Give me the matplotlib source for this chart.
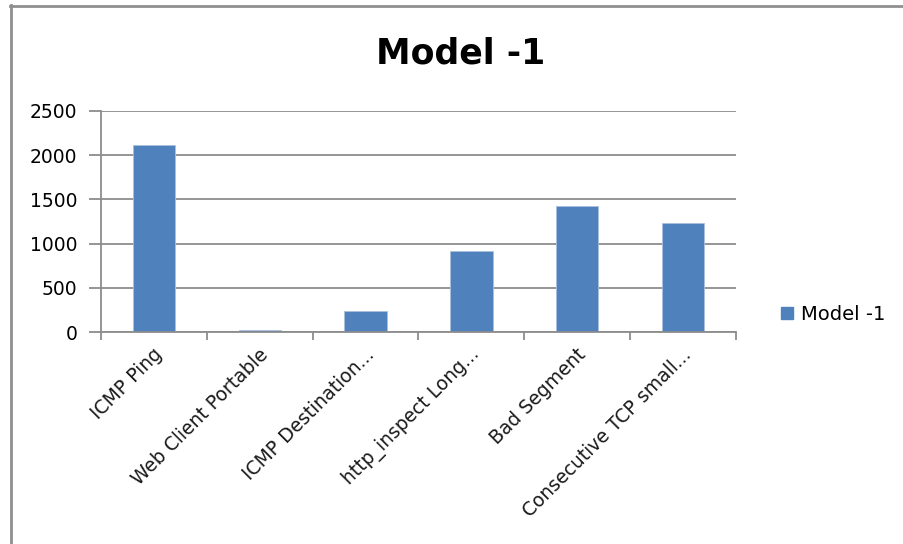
import matplotlib
matplotlib.use("Agg")
import matplotlib.pyplot as plt
from matplotlib.lines import Line2D

categories = ["ICMP Ping", "Web Client Portable", "ICMP Destination...",
              "http_inspect Long...", "Bad Segment", "Consecutive TCP small..."]
values = [2120, 27, 241, 918, 1428, 1236]
series_name = "Model -1"
yticks = [0, 500, 1000, 1500, 2000, 2500]

plt.rcParams['font.family'] = ['DejaVu Sans']

fig = plt.figure(figsize=(9.04, 5.44), dpi=100)
ax = fig.add_axes([101/904, 1-332/544, 635/904, 221/544])

x = list(range(len(categories)))
bars = ax.bar(x, values, width=0.4, color="#4F81BD", edgecolor="#A9C0DE",
              linewidth=0.6, zorder=3, label=series_name)

ax.set_xlim(-0.5, len(categories) - 0.5)
ax.set_ylim(0, 2500)
ax.set_yticks(yticks)
ax.set_yticklabels([str(v) for v in yticks], fontsize=13.5)
ax.grid(axis='y', color="#8C8C8C", linewidth=1.3, zorder=1)
ax.tick_params(axis='y', length=9, width=1.3, color="#8C8C8C", pad=8)

for s in ['top', 'right']:
    ax.spines[s].set_visible(False)
for s in ['bottom', 'left']:
    ax.spines[s].set_color("#8C8C8C")
    ax.spines[s].set_linewidth(1.3)
    ax.spines[s].set_zorder(4)

# category boundaries ticks
ax.set_xticks([i - 0.5 for i in range(len(categories) + 1)])
ax.set_xticklabels([])
ax.tick_params(axis='x', length=6, width=1.3, color="#8C8C8C")

for i, c in enumerate(categories):
    ax.annotate(c, xy=(i, 0), xycoords=('data', 'axes fraction'),
                xytext=(4, -14), textcoords='offset points',
                rotation=45, ha='right', va='center', rotation_mode='anchor',
                fontsize=13.5, color="#1a1a1a")

fig.text(461/904, 1-54/544, "Model -1", ha='center', va='center',
         fontsize=25, fontweight='bold')

handle = Line2D([], [], marker='s', linestyle='none', markersize=8,
                markerfacecolor="#4F81BD", markeredgecolor="#4F81BD")
fig.legend([handle], [series_name], loc='center left',
           bbox_to_anchor=(768/904, 1-314/544), frameon=False,
           fontsize=14, handletextpad=0.2, borderpad=0, handlelength=1.0)

# outer frame border (left and top)
fig.add_artist(Line2D([11/904, 11/904], [0, 1-5/544], transform=fig.transFigure,
                      color="#8F8F8F", linewidth=2))
fig.add_artist(Line2D([10/904, 1], [1-5.5/544, 1-5.5/544], transform=fig.transFigure,
                      color="#8F8F8F", linewidth=2))

fig.savefig("out.png", dpi=100)
